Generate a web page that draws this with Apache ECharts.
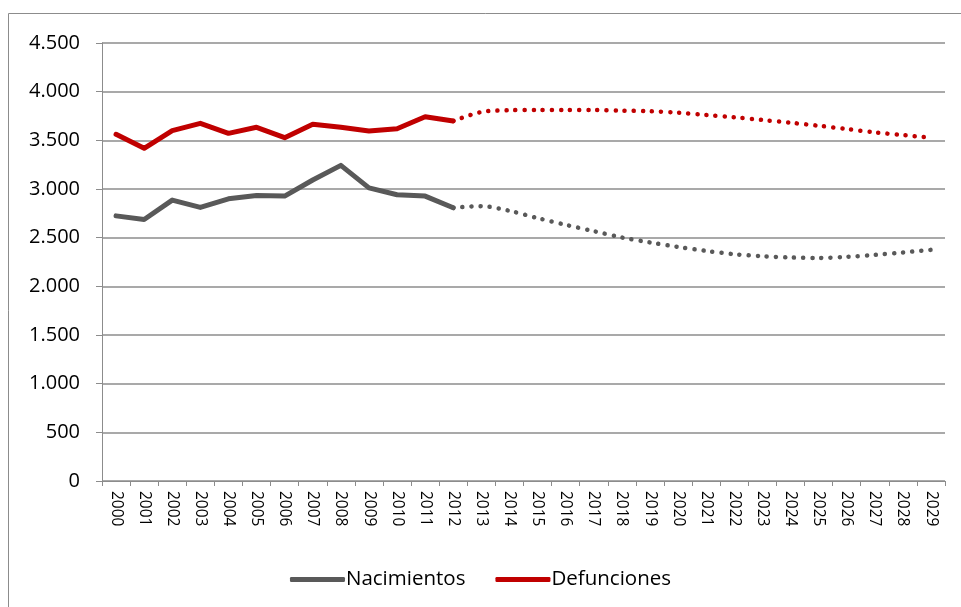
<!DOCTYPE html>
<html>
<head>
    <meta charset="utf-8">
    <title>Nacimientos y Defunciones</title>
    <script src="https://cdn.jsdelivr.net/npm/echarts@6/dist/echarts.min.js"></script>
</head>
<body style="margin:0;background:#fff">
<div id="main" style="width:961px;height:607px"></div>
<script type="text/javascript">
    // years 2000 - 2029
    var years = [];
    for (var y = 2000; y <= 2029; y++) years.push(String(y));

    // observed 2000-2012
    var nacimientos = [2724, 2687, 2886, 2811, 2899, 2934, 2927, 3092, 3243, 3012, 2941, 2927, 2807];
    var defunciones = [3562, 3418, 3599, 3675, 3572, 3634, 3527, 3665, 3634, 3596, 3619, 3743, 3699];

    // projection 2013-2029 (starts from 2012 value)
    var nacProyeccion = [2824, 2776, 2701, 2632, 2567, 2502, 2451, 2405, 2364, 2330, 2310, 2296, 2292, 2303, 2323, 2348, 2375];
    var defProyeccion = [3791, 3809, 3812, 3812, 3812, 3805, 3799, 3784, 3760, 3737, 3709, 3681, 3650, 3616, 3582, 3554, 3527];

    function pad(arr, n) {
        var out = arr.slice();
        while (out.length < n) out.push(null);
        return out;
    }
    function projection(observed, proj) {
        var out = [];
        for (var i = 0; i < observed.length - 1; i++) out.push(null);
        out.push(observed[observed.length - 1]);
        return out.concat(proj);
    }

    var GRAY = '#595959';
    var RED = '#c00000';
    var FONT = 'Open Sans';

    var myChart = echarts.init(document.getElementById('main'));
    var option = {
        animation: false,
        textStyle: {fontFamily: FONT},
        graphic: [{
            type: 'rect',
            shape: {x: 8.5, y: 13.5, width: 1000, height: 700},
            style: {fill: null, stroke: '#8c8c8c', lineWidth: 1}
        }],
        grid: {left: 102, right: 16, top: 43, bottom: 126},
        legend: {
            bottom: 12,
            left: 'center',
            itemWidth: 55,
            itemHeight: 5,
            itemGap: 30,
            data: [
                {name: 'Nacimientos', icon: 'roundRect', itemStyle: {color: GRAY}},
                {name: 'Defunciones', icon: 'roundRect', itemStyle: {color: RED}}
            ],
            textStyle: {fontSize: 20.5, color: '#000', fontFamily: FONT, padding: [0, 0, 0, -4]}
        },
        xAxis: {
            type: 'category',
            data: years,
            boundaryGap: true,
            axisLine: {lineStyle: {color: '#8c8c8c', width: 1}},
            axisTick: {show: true, length: 5, lineStyle: {color: '#8c8c8c'}},
            axisLabel: {rotate: -90, fontSize: 15.5, color: '#000', margin: 10, interval: 0, fontFamily: FONT}
        },
        yAxis: {
            type: 'value',
            min: 0,
            max: 4500,
            interval: 500,
            axisLine: {show: true, lineStyle: {color: '#8c8c8c', width: 1}},
            axisTick: {show: true, length: 6, lineStyle: {color: '#8c8c8c'}},
            splitLine: {lineStyle: {color: '#8c8c8c', width: 1.5}},
            axisLabel: {
                fontSize: 20, color: '#000', margin: 22, fontFamily: FONT,
                formatter: function (v) {
                    return String(v).replace(/\B(?=(\d{3})+(?!\d))/g, '.');
                }
            }
        },
        series: [
            {
                name: 'Nacimientos',
                type: 'line',
                data: pad(nacimientos, years.length),
                symbol: 'none',
                lineStyle: {color: GRAY, width: 5, cap: 'round', join: 'round'},
                itemStyle: {color: GRAY}
            },
            {
                name: 'Defunciones',
                type: 'line',
                data: pad(defunciones, years.length),
                symbol: 'none',
                lineStyle: {color: RED, width: 5, cap: 'round', join: 'round'},
                itemStyle: {color: RED}
            },
            {
                name: 'Nacimientos',
                type: 'line',
                data: projection(nacimientos, nacProyeccion),
                symbol: 'none',
                smooth: 0.3,
                lineStyle: {color: GRAY, width: 4.5, type: [0.1, 9], cap: 'round'},
                itemStyle: {color: GRAY}
            },
            {
                name: 'Defunciones',
                type: 'line',
                data: projection(defunciones, defProyeccion),
                symbol: 'none',
                smooth: 0.3,
                lineStyle: {color: RED, width: 4.5, type: [0.1, 9], cap: 'round'},
                itemStyle: {color: RED}
            }
        ]
    };
    myChart.setOption(option);
</script>
</body>
</html>
